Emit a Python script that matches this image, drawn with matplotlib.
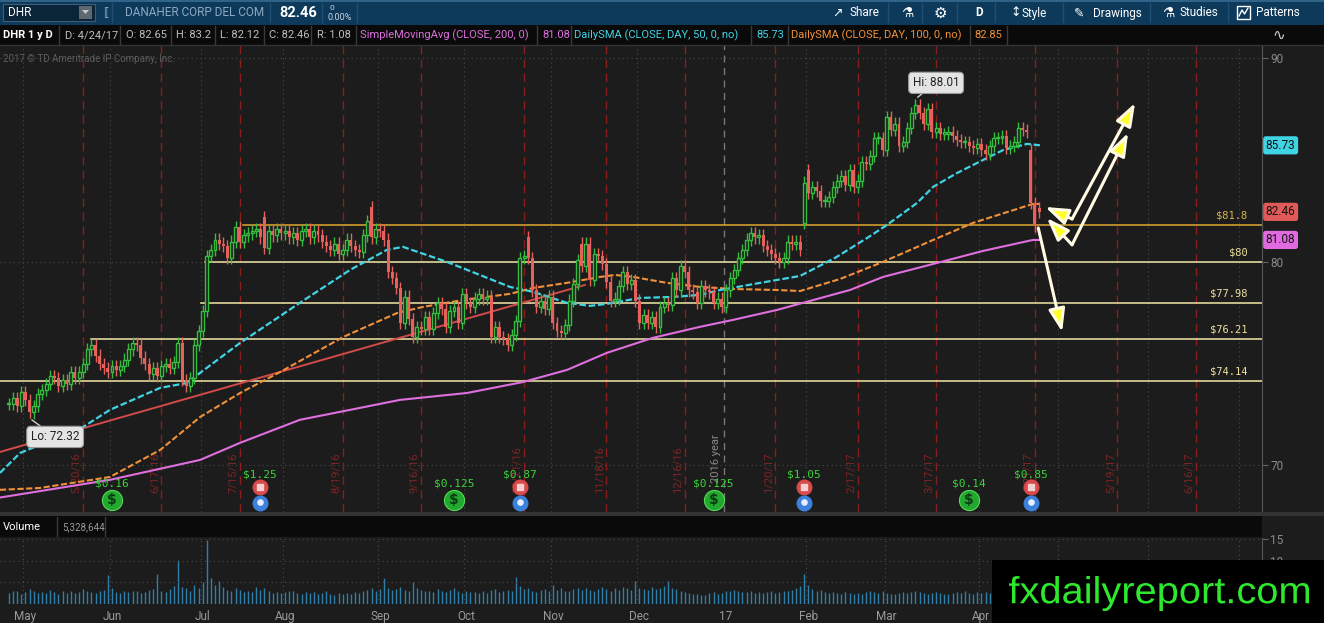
import matplotlib
matplotlib.use("Agg")
import matplotlib.pyplot as plt
import numpy as np
import pandas as pd
from matplotlib.font_manager import FontProperties
from matplotlib.patches import PathPatch, Polygon, Rectangle
from matplotlib.textpath import TextPath
from matplotlib.transforms import Affine2D, blended_transform_factory

W, H = 1324, 623
BG = "#1c1c1c"
GREEN = "#35bd3f"
RED = "#e8605c"
CYAN = "#3fd3e4"
ORANGE = "#f0913a"
MAGENTA = "#df6fdf"
TREND = "#d24a4a"

# ---------------- data ----------------
first_day = "2016-04-26"
holidays = ["2016-05-30", "2016-07-04", "2016-09-05", "2016-11-24", "2016-12-26",
            "2017-01-02", "2017-01-16", "2017-02-20", "2017-04-14", "2017-05-29",
            "2017-07-04"]

# daily closes, 4/26/16 .. 4/24/17
closes = [
    73.0, 73.3, 72.9, 73.6, 73.2, 72.6, 72.9, 73.5, 73.7, 74.0,
    74.4, 74.3, 73.9, 74.2, 74.0, 74.6, 74.3, 74.6, 75.0, 75.7,
    75.9, 75.4, 75.0, 74.8, 74.6, 74.9, 74.7, 74.9, 75.2, 75.7,
    76.0, 75.9, 75.3, 75.0, 74.5, 74.8, 74.4, 74.9, 75.0, 74.8,
    75.1, 76.0, 74.2, 73.9, 74.3, 75.9, 76.6, 77.6, 80.3, 80.6,
    81.1, 80.9, 80.8, 80.2, 81.0, 81.7, 81.0, 81.3, 81.4,
    81.5, 81.6, 81.2, 80.7, 81.5, 81.3, 81.6, 81.4, 81.5, 81.2,
    81.4, 81.1, 81.5, 81.6, 81.2, 81.5, 81.3, 81.0, 80.8, 80.6,
    80.9, 80.4, 80.6, 81.1, 80.8, 80.6, 80.5, 81.3, 82.0, 81.2,
    81.6, 81.5, 81.1, 79.5, 79.2, 78.7, 77.0, 78.3, 77.2, 76.3,
    76.8, 76.7, 77.3, 76.7, 77.5, 78.0, 77.7, 76.8, 77.6, 77.8,
    77.0, 78.4, 78.0, 77.8, 78.2, 78.4, 78.2, 78.3, 76.3, 76.8,
    76.3,
    76.2, 75.9, 76.4, 77.1, 80.2, 80.3, 80.2, 78.6, 77.8, 78.1,
    77.7, 78.3, 77.0, 76.6, 76.5, 76.9, 78.1, 78.9, 80.1, 79.8,
    80.9, 79.1, 80.4, 80.3, 79.9, 79.0, 78.1, 78.2, 78.8, 79.5,
    78.9, 79.1, 78.1, 77.0, 77.4, 77.0, 77.3, 76.8, 77.8, 78.0,
    77.9, 79.2, 78.6, 79.8, 79.5, 78.6, 78.5, 78.0, 78.8, 78.6,
    78.5, 78.0, 78.2, 77.8, 78.6, 79.2, 79.6, 80.2, 80.6, 81.1,
    81.4, 81.2, 81.3, 80.8, 80.6, 80.4, 80.2, 80.0, 80.2, 81.0,
    80.9, 81.0, 80.6,
    83.9, 83.4, 83.7, 83.5, 83.0, 83.0, 83.2, 83.7, 84.0, 84.2,
    83.8, 84.5, 83.7, 84.0, 84.9, 84.8, 85.2, 86.1, 86.1, 85.5,
    87.1, 86.5, 86.8, 85.7, 85.9, 86.6, 87.3, 87.7, 87.3, 86.8,
    87.5, 86.4, 86.6, 86.3, 86.3, 86.4, 86.2, 86.0, 85.9, 85.9,
    85.7, 85.6, 85.8, 85.5, 85.3, 85.7, 86.1, 86.1, 86.2, 85.6,
    85.7, 85.9, 86.6, 86.5, 86.4, 82.9, 81.75, 82.46,
]
gap_opens = {62: 82.2, 88: 82.7, 126: 81.2, 139: 80.9, 193: 81.9, 194: 84.5,
             248: 85.5, 250: 82.65}
low_mark = (5, 72.32)
high_mark = (220, 88.01)

# volume, millions
volumes = [
    2.6, 2.9, 3.1, 2.4, 2.7, 3.5, 3.0, 2.5, 2.8, 2.6, 3.2, 2.7, 2.4, 2.9, 2.5, 3.1, 2.6, 2.8, 3.4, 3.0,
    2.7, 2.5, 2.9, 3.3, 6.8, 3.6, 2.8, 2.6, 3.0, 2.7, 3.1, 2.9, 2.6, 2.8, 3.2, 3.5, 6.9, 3.1, 2.7, 3.4,
    4.2, 10.3, 4.0, 3.6, 3.1, 4.5, 3.8, 5.2, 14.8, 6.1, 4.3, 5.4, 3.9, 3.3, 2.9, 3.6, 3.2, 2.8, 3.0, 2.7,
    3.9, 3.3, 3.8, 3.0, 2.6, 2.8, 2.5, 2.7, 2.9, 3.1, 2.6, 2.4, 2.8, 2.5, 2.7, 2.3, 2.6, 2.9, 2.4, 2.2,
    2.5, 2.3, 2.6, 2.4, 2.8, 2.6, 3.0, 3.3, 3.8, 3.1, 3.4, 6.0, 3.7, 3.2, 3.5, 3.9, 3.3, 3.0, 5.1, 3.6,
    3.2, 2.9, 3.1, 2.8, 3.4, 3.0, 2.7, 3.3, 3.6, 2.9, 2.6, 3.1, 2.8, 2.7, 2.5, 2.9, 2.6, 3.2, 3.5, 2.8,
    3.0, 3.3, 2.9, 6.2, 4.1, 3.4, 3.6, 3.0, 2.8, 3.2, 3.5, 3.1, 4.4, 3.3, 3.7, 3.0, 2.9, 3.4, 3.8, 3.2,
    3.6, 3.3, 3.0, 3.5, 3.9, 3.4, 3.1, 3.7, 3.2, 4.0, 3.6, 3.3, 5.3, 3.8, 3.5, 3.2, 3.9, 3.4, 3.6, 4.1,
    5.3, 3.7, 3.5, 3.0, 2.8, 2.6, 2.4, 2.3, 2.1, 2.2, 2.5, 2.7, 2.4, 2.6, 3.0, 2.9, 3.2, 3.1, 2.8, 2.7,
    2.9, 2.6, 2.8, 2.5, 2.7, 3.0, 2.6, 2.8, 3.1, 2.9, 3.3, 3.6, 4.2, 6.9, 4.4, 3.5, 2.9, 3.2, 2.7, 2.5,
    2.8, 2.6, 2.4, 2.7, 2.5, 2.3, 2.6, 2.4, 2.8, 3.0, 2.7, 2.5, 2.9, 2.6, 2.4, 2.3, 2.5, 2.7, 2.6, 2.8,
    3.0, 2.7, 2.5, 2.4, 2.6, 2.8, 2.5, 2.3, 2.4, 2.6, 2.7, 2.5, 2.9, 2.6, 2.4, 2.7, 2.5, 2.8, 2.6, 2.9,
    2.7, 3.0, 2.8, 3.1, 2.9, 3.3, 3.6, 4.1, 9.5, 6.8, 5.33,
]

# moving averages read at knots (bar index, price)
sma50_x = [-2.2, 2.7, 18.0, 24.5, 36.7, 43.2, 46.4, 56.1, 70.6, 82.8, 91.7, 95.6, 106.3,
           121.6, 127.2, 135.4, 141.0, 145.1, 153.2, 161.2, 167.7, 172.6, 182.3, 192.0,
           200.5, 208.3, 213.1, 220.4, 224.3, 230.1, 236.4, 241.3, 247.1, 250.2]
sma50_y = [69.63, 70.61, 71.89, 72.73, 73.81, 74.05, 74.55, 76.02, 77.99, 79.61, 80.59,
           80.74, 80.00, 78.77, 78.53, 77.99, 77.84, 77.94, 78.23, 78.28, 78.38, 78.62,
           78.97, 79.31, 80.20, 81.18, 81.82, 82.90, 83.69, 84.37, 85.01, 85.50, 85.80, 85.73]
sma100_x = [-2.2, 7.5, 24.5, 36.7, 46.4, 56.1, 65.8, 81.1, 94.2, 100.5, 110.2, 121.6, 127.2,
            135.4, 143.4, 147.1, 151.5, 159.7, 167.7, 175.7, 186.4, 192.0, 201.7, 212.1,
            224.3, 234.0, 248.5, 250.2]
sma100_y = [68.80, 68.89, 69.43, 70.76, 72.38, 73.56, 74.59, 76.31, 77.49, 77.79, 78.13,
            78.43, 78.72, 78.97, 79.26, 79.36, 79.26, 78.97, 78.77, 78.67, 78.62, 78.57,
            79.16, 80.00, 81.08, 81.92, 82.85, 82.85]
sma200_x = [-2.2, 24.5, 46.4, 56.1, 70.6, 82.8, 94.9, 111.2, 124.8, 135.4, 145.1, 156.3,
            167.7, 175.7, 186.4, 192.7, 204.1, 212.1, 224.3, 236.4, 248.5, 250.2]
sma200_y = [68.42, 69.29, 70.27, 71.11, 72.24, 72.73, 73.22, 73.56, 74.10, 74.69, 75.53,
            76.27, 76.81, 77.15, 77.64, 77.99, 78.62, 79.26, 79.90, 80.54, 81.08, 81.08]
trend_x = [-2.2, 139.8]
trend_y = [70.66, 78.87]

levels = [81.8, 80.0, 77.98, 76.21, 74.14]
level_labels = ["$81.8", "$80", "$77.98", "$76.21", "$74.14"]
level_start = [56.8, 47.6, 46.6, 19.9, -2.2]

expiry_dates = ["2016-05-20", "2016-06-17", "2016-07-15", "2016-08-19", "2016-09-16",
                "2016-10-21", "2016-11-18", "2016-12-16", "2017-01-20", "2017-02-17",
                "2017-03-17", "2017-04-21", "2017-05-19", "2017-06-16"]
expiry_labels = ["5/20/16", "6/17/16", "7/15/16", "8/19/16", "9/16/16", "10/21/16",
                 "11/18/16", "12/16/16", "1/20/17", "2/17/17", "3/17/17", "4/21/17",
                 "5/19/17", "6/16/17"]

event_dates = ["2016-06-01", "2016-07-22", "2016-09-28", "2016-10-20", "2016-12-28",
               "2017-01-31", "2017-03-29", "2017-04-20"]
event_labels = ["$0.16", "$1.25", "$0.125", "$0.87", "$0.125", "$1.05", "$0.14", "$0.85"]
event_kinds = ["div", "earn", "div", "earn", "div", "earn", "div", "earn"]

price_tags = [85.73, 82.46, 81.08]
tag_colors = [CYAN, "#e05a5a", "#e06be0"]

# projection arrows drawn on the chart: (vertex, tip) in (bar, price)
arrows = [((258.0, 82.11), (251.5, 82.70)), ((258.0, 82.11), (273.3, 87.81)),
          ((258.0, 80.84), (251.9, 82.16)), ((258.0, 80.84), (271.6, 86.34)),
          ((249.8, 81.67), (255.6, 76.56))]

# ---------------- figure ----------------
plt.rcParams["font.family"] = ["Roboto", "DejaVu Sans"]

days = pd.bdate_range(first_day, "2017-07-14", freq="C", holidays=holidays)


def pos(d):
    return days.get_loc(pd.Timestamp(d))


def rect(x0, y0, x1, y1):
    return [x0 / W, 1 - y1 / H, (x1 - x0) / W, (y1 - y0) / H]


fig = plt.figure(figsize=(W / 100, H / 100), dpi=100, facecolor=BG)
ax = fig.add_axes(rect(0, 45, 1262, 512), facecolor=BG)
axv = fig.add_axes(rect(0, 538, 1262, 604), facecolor=BG)
XL = (-2.18, 304.1)
bt = blended_transform_factory(ax.transData, ax.transAxes)
rt = blended_transform_factory(ax.transAxes, ax.transData)

# month starts
months = []
for k in range(1, len(days)):
    if days[k].month != days[k - 1].month:
        months.append((k, "17" if days[k].month == 1 else days[k].strftime("%b")))

for a in (ax, axv):
    a.set_xlim(*XL)
    for s in ("top", "left", "bottom"):
        a.spines[s].set_visible(False)
    a.spines["right"].set_color("#555555")
    for k, lab in months:
        if lab != "17":
            a.axvline(k - 0.5, color="#4a4a4a", lw=0.8, ls=(0, (1, 3)), zorder=1)

ax.set_ylim(67.71, 90.66)
ax.set_xticks([])
ax.yaxis.tick_right()
ax.set_yticks([70, 80, 90])
ax.tick_params(axis="y", colors="#666666", labelcolor="#8a8a8a", labelsize=8.5,
               length=4, pad=2)
for v in (70, 80, 90):
    ax.axhline(v, color="#4a4a4a", lw=0.8, ls=(0, (1, 3)), zorder=1)

# expiration and year lines
for d, lab in zip(expiry_dates, expiry_labels):
    p = pos(d)
    ax.axvline(p, color="#8a1e1e", lw=1, dashes=(6, 4), zorder=1)
    ax.text(p - 1.7, 0.041, lab, transform=bt, rotation=90, ha="center", va="bottom",
            color="#7e2424", fontsize=8, zorder=2)
ypos = pos("2017-01-03") - 0.5
ax.axvline(ypos, color="#777777", lw=1, dashes=(5, 4), zorder=1)
ax.text(ypos - 1.8, 0.062, "2016 year", transform=bt, rotation=90, ha="center",
        va="bottom", color="#8a8a8a", fontsize=8, zorder=2)

# support / resistance levels
for lv, lab, st in zip(levels, level_labels, level_start):
    lc = "#e0a82e" if lv == 81.8 else "#f2e7a6"
    tc = "#d9b84a" if lv == 81.8 else "#eee2a0"
    ax.plot([st, XL[1]], [lv, lv], color=lc, lw=1.1, zorder=2)
    ax.text(300.6, lv + 0.22, lab, ha="right", va="bottom", color=tc, fontsize=7.5,
            family="DejaVu Sans Mono", zorder=6)

# moving averages and trend line
ax.plot(trend_x, trend_y, color=TREND, lw=1.4, zorder=3)
ax.plot(sma200_x, sma200_y, color=MAGENTA, lw=1.5, zorder=3)
ax.plot(sma100_x, sma100_y, color=ORANGE, lw=1.5, dashes=(3, 1.2), zorder=3)
ax.plot(sma50_x, sma50_y, color=CYAN, lw=1.6, dashes=(3, 1.2), zorder=3)

# candles
n = len(closes)
xs = np.arange(n)
c = np.array(closes)
o = np.r_[c[0], c[:-1]]
for k, v in gap_opens.items():
    o[k] = v
hi = np.maximum(o, c) + 0.3
lo = np.minimum(o, c) - 0.3
hi[high_mark[0]] = high_mark[1]
lo[low_mark[0]] = low_mark[1]
up = c >= o
ax.vlines(xs, lo, hi, colors=np.where(up, GREEN, RED), lw=1, zorder=4)
body = np.maximum(np.abs(c - o), 0.06)
ax.bar(xs[up], body[up], bottom=o[up], width=0.72, facecolor=BG, edgecolor=GREEN,
       lw=1, zorder=5)
ax.bar(xs[~up], body[~up], bottom=c[~up], width=0.72, color=RED, lw=0, zorder=5)

# callouts
box = dict(boxstyle="round,pad=0.35", fc="#e4e4e4", ec="#9a9a9a", lw=0.8)
ax.annotate(f"Hi: {high_mark[1]:.2f}", xy=high_mark, xytext=(225.0, 88.80), ha="center",
            va="center", fontsize=8.5, color="#222222", bbox=box, zorder=7,
            arrowprops=dict(arrowstyle="-", color="#d0d0d0", lw=1, shrinkA=0, shrinkB=2))
ax.annotate(f"Lo: {low_mark[1]:.2f}", xy=low_mark, xytext=(11.2, 71.40), ha="center",
            va="center", fontsize=8.5, color="#222222", bbox=box, zorder=7,
            arrowprops=dict(arrowstyle="-", color="#d0d0d0", lw=1, shrinkA=0, shrinkB=2))

# drawn projection arrows
for start, tip in arrows:
    ax.annotate("", xy=tip, xytext=start, zorder=8,
                arrowprops=dict(arrowstyle="-|>,head_length=1.4,head_width=0.5",
                                fc="#ffff2a", ec="#fffbe4", lw=2.2, shrinkA=0, shrinkB=0,
                                mutation_scale=10))

# earnings / dividend events
for d, lab, kind in zip(event_dates, event_labels, event_kinds):
    p = pos(d)
    if kind == "div":
        ax.text(p, 0.060, lab, transform=bt, ha="center", va="center", color="#3ad43a",
                fontsize=8, family="DejaVu Sans Mono", zorder=7)
        ax.scatter([p], [0.026], s=210, color="#22a82f", edgecolor="#55d955", lw=0.8,
                   transform=bt, zorder=7, clip_on=False)
        ax.text(p, 0.026, "$", transform=bt, ha="center", va="center", color="#0d3b12",
                fontsize=10, weight="bold", family="DejaVu Sans", zorder=8)
    else:
        ax.text(p, 0.081, lab, transform=bt, ha="center", va="center", color="#3ad43a",
                fontsize=8, family="DejaVu Sans Mono", zorder=7)
        ax.scatter([p], [0.054], s=110, color="#d94a4a", transform=bt, zorder=7)
        ax.scatter([p], [0.054], s=22, marker="s", color="#f3d0d0", transform=bt,
                   zorder=8)
        ax.scatter([p], [0.019], s=110, color="#3a82dc", transform=bt, zorder=7,
                   clip_on=False)
        ax.scatter([p], [0.021], s=14, color="#e8f0ff", transform=bt, zorder=8,
                   clip_on=False)

# price tags on the right axis
for v, col in zip(price_tags, tag_colors):
    ax.text(1.003, v, f"{v:.2f}", transform=rt, ha="left", va="center", fontsize=8.5,
            color="#111111", clip_on=False, zorder=9,
            bbox=dict(boxstyle="round,pad=0.22", fc=col, ec="none"))

# volume pane
axv.vlines(np.arange(len(volumes)), 0, volumes, color="#2f7fa8", lw=1)
axv.set_ylim(0, 15.3)
axv.yaxis.tick_right()
axv.set_yticks([5, 10, 15])
axv.tick_params(axis="y", colors="#666666", labelcolor="#8a8a8a", labelsize=8.5,
                length=4, pad=2)
for v in (5, 10, 15):
    axv.axhline(v, color="#4a4a4a", lw=0.8, ls=(0, (1, 3)))
axv.set_xticks([k for k, _ in months])
axv.set_xticklabels([lab for _, lab in months])
axv.tick_params(axis="x", length=0, pad=4, labelcolor="#9a9a9a", labelsize=8.5)

# ---------------- overlay: toolbars, headers, watermark ----------------
fg = fig.add_axes([0, 0, 1, 1], zorder=20)
fg.set_xlim(0, W)
fg.set_ylim(H, 0)
fg.axis("off")
fg.patch.set_alpha(0)

fg.add_patch(Rectangle((0, 0), W, 25, fc="#0d3a5b", ec="none"))
fg.add_patch(Rectangle((0, 0), W, 1.5, fc="#2f6387", ec="none"))
fg.add_patch(Rectangle((3, 4), 92, 17, fc="#0a2438", ec="#3d5d78", lw=0.8))
fg.text(8, 13, "DHR", color="white", fontsize=8.5, va="center")
fg.add_patch(Rectangle((79, 6), 13, 13, fc="#5d6873", ec="none"))
fg.add_patch(Polygon([(82, 10), (89, 10), (85.5, 14)], fc="#c8c8c8", ec="none"))
fg.text(103, 13, "\u27e6", color="#b8c8d8", fontsize=8, va="center", family="DejaVu Sans")
fg.text(125, 13, "DANAHER CORP DEL COM", color="#8fa9c0", fontsize=8.5, va="center")
fg.text(279, 13, "82.46", color="white", fontsize=10.5, weight="bold", va="center")
fg.text(329, 7.5, "0", color="#c8d4de", fontsize=6, va="center")
fg.text(327, 17.5, "0.00%", color="#c8d4de", fontsize=6.5, va="center")
for sx in (112, 270, 322, 357, 888, 922, 957, 995, 1063, 1150, 1228):
    fg.plot([sx, sx], [3, 22], color="#1f4f73", lw=1)
fg.text(832, 13, "\u2197", color="white", fontsize=9, va="center", family="DejaVu Sans")
fg.text(849, 13, "Share", color="white", fontsize=8.5, va="center")
fg.text(901, 13, "\u2697", color="white", fontsize=10, va="center", family="DejaVu Sans")
fg.text(934, 13, "\u2699", color="white", fontsize=11, va="center", family="DejaVu Sans")
fg.text(975, 13, "D", color="white", fontsize=8.5, weight="bold", va="center")
fg.text(1010, 13, "\u2195", color="white", fontsize=9, va="center", family="DejaVu Sans")
fg.text(1022, 13, "Style", color="white", fontsize=8.5, va="center")
fg.text(1074, 13, "\u270e", color="white", fontsize=9, va="center", family="DejaVu Sans")
fg.text(1093, 13, "Drawings", color="white", fontsize=8.5, va="center")
fg.text(1162, 13, "\u2697", color="white", fontsize=10, va="center", family="DejaVu Sans")
fg.text(1179, 13, "Studies", color="white", fontsize=8.5, va="center")
# small "patterns" icon: box with a zigzag
fg.add_patch(Rectangle((1237, 6), 13, 13, fc="none", ec="white", lw=1))
fg.plot([1239, 1242, 1244.5, 1248], [16, 10, 14, 8], color="white", lw=1)
fg.text(1256, 13, "Patterns", color="white", fontsize=8.5, va="center")

# study header row
fg.add_patch(Rectangle((0, 25), W, 20, fc="#0a0a0a", ec="none"))
fg.plot([0, W], [45, 45], color="#333333", lw=1)
for sx in (59, 120, 171, 215, 264, 311, 356, 537, 571, 751, 788, 970, 1007):
    fg.plot([sx, sx], [26, 44], color="#3a3a3a", lw=1)
row2 = [("DHR 1 y D", 3, "white", "bold"), ("D: 4/24/17", 65, "#bdbdbd", "normal"),
        ("O: 82.65", 126, "#bdbdbd", "normal"), ("H: 83.2", 176, "#bdbdbd", "normal"),
        ("L: 82.12", 220, "#bdbdbd", "normal"), ("C: 82.46", 269, "#bdbdbd", "normal"),
        ("R: 1.08", 317, "#bdbdbd", "normal"),
        ("SimpleMovingAvg (CLOSE, 200, 0)", 360, MAGENTA, "normal"),
        ("81.08", 542, MAGENTA, "normal"),
        ("DailySMA (CLOSE, DAY, 50, 0, no)", 574, CYAN, "normal"),
        ("85.73", 756, CYAN, "normal"),
        ("DailySMA (CLOSE, DAY, 100, 0, no)", 791, ORANGE, "normal"),
        ("82.85", 974, ORANGE, "normal")]
for txt, tx, col, wt in row2:
    fg.text(tx, 35.5, txt, color=col, fontsize=8, weight=wt, va="center")
fg.text(1272, 35, "\u223f", color="#cfcfcf", fontsize=11, va="center", family="DejaVu Sans")
fg.text(3, 59, "2017 \u00a9 TD Ameritrade IP Company, Inc.", color="#5c5c5c", fontsize=7,
        va="center")

# volume header row
fg.add_patch(Rectangle((0, 512), W, 4, fc="#333333", ec="none"))
fg.add_patch(Rectangle((0, 516), 1262, 21, fc="#0a0a0a", ec="none"))
fg.plot([57, 57], [517, 536], color="#3a3a3a", lw=1)
fg.plot([105, 105], [517, 536], color="#3a3a3a", lw=1)
fg.text(3, 527, "Volume", color="white", fontsize=8, va="center")
fg.text(62, 527, "5,328,644", color="#9a9a9a", fontsize=7, va="center")

# watermark
fg.add_patch(Rectangle((992, 560), W - 992, H - 560, fc="black", ec="none"))
tp = TextPath((0, 0), "fxdailyreport.com", size=40,
              prop=FontProperties(family="Liberation Sans"))
bb = tp.get_extents()
tr = Affine2D().translate(-bb.x0, -bb.y0).scale(300 / bb.width, -35 / bb.height)
tr = tr.translate(1009, 611)
fg.add_patch(PathPatch(tr.transform_path(tp), fc="#2ee82e", ec="none"))

fig.savefig("out.png", dpi=100, facecolor=BG)
